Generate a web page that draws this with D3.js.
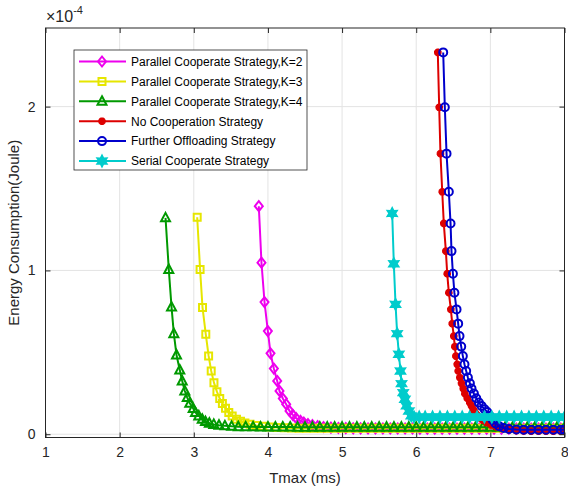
<!DOCTYPE html>
<html>
<head>
<meta charset="utf-8">
<script src="https://cdn.jsdelivr.net/npm/d3@7"></script>
<style>
  body { margin: 0; background: #fff; }
  svg { display: block; font-family: "Liberation Sans", Arial, sans-serif; }
  .tick text { fill: #262626; }
</style>
</head>
<body>
<div id="chart"></div>
<script>
// energy values are in units of 1e-4 Joule (see the x10^-4 label)
var seriesNames = ["Parallel Cooperate Strategy,K=2", "Parallel Cooperate Strategy,K=3",
  "Parallel Cooperate Strategy,K=4", "No Cooperation Strategy",
  "Further Offloading Strategy", "Serial Cooperate Strategy"];
var xTicks = [1, 2, 3, 4, 5, 6, 7, 8];
var yTicks = [0, 1, 2];

var tK2 = [3.877, 3.913, 3.954, 3.999, 4.035, 4.080, 4.125, 4.156, 4.201, 4.246, 4.291, 4.336, 4.381, 4.439, 4.484,
  4.54, 4.60, 4.67, 4.75, 4.85, 4.95, 5.05, 5.15, 5.25, 5.35, 5.45, 5.55, 5.65, 5.75, 5.85, 5.95, 6.05, 6.15,
  6.25, 6.35, 6.45, 6.55, 6.65, 6.75, 6.85, 6.95, 7.05, 7.15, 7.25, 7.35, 7.45, 7.55, 7.65, 7.75, 7.85, 7.95];
var eK2 = [1.392, 1.047, 0.807, 0.630, 0.494, 0.401, 0.325, 0.264, 0.218, 0.183, 0.142, 0.118, 0.098, 0.081, 0.071,
  0.062, 0.055, 0.049, 0.044, 0.040, 0.038, 0.037, 0.036, 0.036, 0.035, 0.035, 0.035, 0.035, 0.035, 0.035, 0.035, 0.034, 0.034,
  0.034, 0.034, 0.034, 0.034, 0.034, 0.034, 0.034, 0.034, 0.034, 0.034, 0.034, 0.034, 0.034, 0.034, 0.034, 0.034, 0.034, 0.034];

var tK3 = [3.046, 3.085, 3.118, 3.162, 3.200, 3.235, 3.272, 3.312, 3.350, 3.386, 3.428, 3.472, 3.518, 3.576,
  3.63, 3.69, 3.76, 3.84, 3.93, 4.02, 4.12, 4.22, 4.32, 4.42, 4.52, 4.62, 4.72, 4.82, 4.92, 5.02, 5.12, 5.22,
  5.32, 5.42, 5.52, 5.62, 5.72, 5.82, 5.92, 6.02, 6.12, 6.22, 6.32, 6.42, 6.52, 6.62, 6.72, 6.82, 6.92, 7.02,
  7.12, 7.22, 7.32, 7.42, 7.52, 7.62, 7.72, 7.82, 7.92, 8.0];
var eK3 = [1.325, 1.006, 0.773, 0.610, 0.478, 0.386, 0.315, 0.260, 0.218, 0.187, 0.159, 0.132, 0.112, 0.091,
  0.079, 0.069, 0.061, 0.054, 0.048, 0.044, 0.041, 0.039, 0.038, 0.037, 0.037, 0.037, 0.036, 0.036, 0.036, 0.036, 0.036, 0.036,
  0.036, 0.036, 0.036, 0.036, 0.036, 0.036, 0.036, 0.036, 0.036, 0.036, 0.036, 0.036, 0.036, 0.036, 0.036, 0.036, 0.036, 0.036,
  0.036, 0.036, 0.036, 0.036, 0.036, 0.036, 0.036, 0.036, 0.036, 0.036];

var tK4 = [2.619, 2.663, 2.700, 2.731, 2.767, 2.811, 2.844, 2.879, 2.912, 2.946, 2.992, 3.023, 3.068, 3.114, 3.158,
  3.21, 3.27, 3.34, 3.42, 3.51, 3.6, 3.7, 3.8, 3.9, 4.0, 4.1, 4.2, 4.3, 4.4, 4.5, 4.6, 4.7, 4.8, 4.9, 5.0,
  5.1, 5.2, 5.3, 5.4, 5.5, 5.6, 5.7, 5.8, 5.9, 6.0, 6.1, 6.2, 6.3, 6.4, 6.5, 6.6, 6.7, 6.8, 6.9, 7.0,
  7.1, 7.2, 7.3, 7.4, 7.5, 7.6, 7.7, 7.8, 7.9, 8.0];
var eK4 = [1.321, 1.006, 0.776, 0.614, 0.484, 0.392, 0.325, 0.264, 0.224, 0.189, 0.157, 0.132, 0.112, 0.091, 0.077,
  0.067, 0.060, 0.055, 0.051, 0.048, 0.046, 0.045, 0.045, 0.044, 0.044, 0.044, 0.044, 0.044, 0.043, 0.043, 0.043, 0.043, 0.043, 0.043, 0.043,
  0.043, 0.043, 0.043, 0.043, 0.043, 0.043, 0.043, 0.043, 0.043, 0.043, 0.043, 0.043, 0.043, 0.043, 0.043, 0.043, 0.043, 0.043, 0.043, 0.043,
  0.043, 0.043, 0.043, 0.043, 0.043, 0.043, 0.043, 0.043, 0.043, 0.043];

var tNoCoop = [6.291, 6.310, 6.327, 6.351, 6.372, 6.400, 6.418, 6.440, 6.467, 6.486, 6.507, 6.521, 6.535, 6.553,
  6.566, 6.588, 6.611, 6.634, 6.656, 6.688, 6.723, 6.746, 6.769, 6.791,
  6.82, 6.86, 6.90, 6.95, 7.01, 7.08, 7.16, 7.25, 7.35, 7.45, 7.55, 7.65, 7.75, 7.85, 7.95, 8.0];
var eNoCoop = [2.331, 1.996, 1.713, 1.480, 1.287, 1.118, 0.980, 0.864, 0.762, 0.675, 0.599, 0.535, 0.477, 0.427,
  0.386, 0.346, 0.311, 0.279, 0.248, 0.220, 0.193, 0.173, 0.152, 0.136,
  0.118, 0.100, 0.085, 0.070, 0.057, 0.045, 0.035, 0.027, 0.022, 0.020, 0.019, 0.019, 0.019, 0.019, 0.019, 0.019];

var tFurther = [6.364, 6.386, 6.409, 6.440, 6.463, 6.476, 6.495, 6.515, 6.544, 6.566, 6.584, 6.607, 6.629, 6.651,
  6.674, 6.697, 6.724, 6.746, 6.778, 6.810, 6.845, 6.881, 6.922, 6.958,
  6.99, 7.03, 7.07, 7.12, 7.18, 7.25, 7.35, 7.45, 7.55, 7.65, 7.75, 7.85, 7.95, 8.0];
var eFurther = [2.331, 1.996, 1.713, 1.480, 1.287, 1.118, 0.980, 0.864, 0.762, 0.675, 0.599, 0.535, 0.477, 0.427,
  0.386, 0.346, 0.311, 0.279, 0.248, 0.220, 0.193, 0.173, 0.152, 0.136,
  0.112, 0.087, 0.066, 0.049, 0.038, 0.032, 0.029, 0.028, 0.027, 0.027, 0.027, 0.027, 0.027, 0.027];

var tSerial = [5.676, 5.698, 5.721, 5.743, 5.766, 5.788, 5.802, 5.825, 5.847, 5.870, 5.901, 5.933,
  5.97, 6.04, 6.12, 6.22, 6.32, 6.42, 6.52, 6.62, 6.72, 6.82, 6.92, 7.02, 7.12, 7.22, 7.32, 7.42, 7.52,
  7.62, 7.72, 7.82, 7.92, 8.0];
var eSerial = [1.348, 1.041, 0.793, 0.614, 0.488, 0.386, 0.309, 0.254, 0.213, 0.173, 0.142, 0.112,
  0.106, 0.105, 0.105, 0.105, 0.105, 0.105, 0.105, 0.105, 0.105, 0.105, 0.105, 0.105, 0.105, 0.105, 0.105, 0.105, 0.105,
  0.105, 0.105, 0.105, 0.105, 0.105];

var colors = ["#ee00ee", "#e6e600", "#009900", "#dd0000", "#0000cc", "#00cccc"];
var markers = ["diamond", "square", "triangle", "asterisk", "circle", "hexagram"];

var w = 568, h = 492;
var m = {top: 28, right: 3.5, bottom: 54.5, left: 45.5};
var iw = w - m.left - m.right, ih = h - m.top - m.bottom;

var x = d3.scaleLinear().domain([1, 8]).range([0, iw]);
var y = d3.scaleLinear().domain([-0.02, 2.48]).range([ih, 0]);

var series = [[tK2, eK2], [tK3, eK3], [tK4, eK4], [tNoCoop, eNoCoop], [tFurther, eFurther], [tSerial, eSerial]].map(function(s, i) {
  return {name: seriesNames[i], color: colors[i], marker: markers[i],
    pts: s[0].map(function(t, j) { return [t, s[1][j]]; })};
});

function markerPath(type) {
  var p = d3.path(), k, a, r;
  if (type === "diamond") { p.moveTo(0, -5); p.lineTo(4, 0); p.lineTo(0, 5); p.lineTo(-4, 0); p.closePath(); }
  else if (type === "square") { p.rect(-3.5, -3.5, 7, 7); }
  else if (type === "triangle") { p.moveTo(0, -5); p.lineTo(4.5, 3.5); p.lineTo(-4.5, 3.5); p.closePath(); }
  else if (type === "circle") { p.arc(0, 0, 4, 0, 2 * Math.PI); p.closePath(); }
  else if (type === "asterisk") {
    for (k = 0; k < 4; k++) {
      a = k * Math.PI / 4;
      p.moveTo(-3.8 * Math.cos(a), -3.8 * Math.sin(a)); p.lineTo(3.8 * Math.cos(a), 3.8 * Math.sin(a));
    }
  } else if (type === "hexagram") {
    for (k = 0; k < 12; k++) {
      a = -Math.PI / 2 + k * Math.PI / 6;
      r = k % 2 ? 2.8 : 5.2;
      if (k === 0) p.moveTo(r * Math.cos(a), r * Math.sin(a)); else p.lineTo(r * Math.cos(a), r * Math.sin(a));
    }
    p.closePath();
  }
  return p.toString();
}
function markerFill(d) { return d.marker === "hexagram" ? d.color : "none"; }
function markerWidth(d) { return d.marker === "asterisk" ? 2.6 : 2; }

var svg = d3.select("#chart").append("svg").attr("width", w).attr("height", h);
var g = svg.append("g").attr("transform", "translate(" + m.left + "," + m.top + ")");

svg.append("defs").append("clipPath").attr("id", "clip")
  .append("rect").attr("x", 0).attr("y", 0).attr("width", iw).attr("height", ih);

// grid
g.append("g").selectAll("line").data(xTicks).enter().append("line")
  .attr("x1", function(d) { return x(d); }).attr("x2", function(d) { return x(d); })
  .attr("y1", 0).attr("y2", ih).attr("stroke", "#e3e3e3").attr("stroke-width", 1);
g.append("g").selectAll("line").data(yTicks).enter().append("line")
  .attr("y1", function(d) { return y(d); }).attr("y2", function(d) { return y(d); })
  .attr("x1", 0).attr("x2", iw).attr("stroke", "#e3e3e3").attr("stroke-width", 1);

// curves
var line = d3.line().x(function(d) { return x(d[0]); }).y(function(d) { return y(d[1]); });
var plot = g.append("g").attr("clip-path", "url(#clip)");
series.forEach(function(s) {
  var sg = plot.append("g");
  sg.append("path").datum(s.pts).attr("d", line).attr("fill", "none")
    .attr("stroke", s.color).attr("stroke-width", 2).attr("stroke-linejoin", "round");
  sg.selectAll("path.mk").data(s.pts).enter().append("path").attr("class", "mk")
    .attr("transform", function(d) { return "translate(" + x(d[0]) + "," + y(d[1]) + ")"; })
    .attr("d", markerPath(s.marker)).attr("fill", markerFill(s))
    .attr("stroke", s.color).attr("stroke-width", markerWidth(s));
});

// axes (ticks pointing inward, box on)
var fmt = d3.format("d");
var ax = d3.axisBottom(x).tickValues(xTicks).tickFormat(fmt).tickSize(-5).tickPadding(10);
var ay = d3.axisLeft(y).tickValues(yTicks).tickFormat(fmt).tickSize(-5).tickPadding(10);
var gx = g.append("g").attr("transform", "translate(0," + ih + ")").call(ax);
var gy = g.append("g").call(ay);
g.append("g").call(d3.axisTop(x).tickValues(xTicks).tickSize(-5).tickFormat(""));
g.append("g").attr("transform", "translate(" + iw + ",0)").call(d3.axisRight(y).tickValues(yTicks).tickSize(-5).tickFormat(""));
g.selectAll(".domain").remove();
g.selectAll(".tick line").attr("stroke", "#262626");
g.append("rect").attr("width", iw).attr("height", ih).attr("fill", "none").attr("stroke", "#262626").attr("stroke-width", 1);
gx.selectAll("text").attr("font-size", 14);
gy.selectAll("text").attr("font-size", 14);

// exponent label
var ex = svg.append("text").attr("x", 46).attr("y", 22).attr("fill", "#262626").attr("font-size", 16);
ex.append("tspan").text("\u00d710");
ex.append("tspan").attr("dy", -8).attr("font-size", 11).text("-4");

svg.append("text").attr("x", m.left + iw / 2).attr("y", 483).attr("text-anchor", "middle")
  .attr("fill", "#262626").attr("font-size", 15).text("Tmax (ms)");
svg.append("text").attr("transform", "translate(19," + (m.top + ih / 2) + ") rotate(-90)")
  .attr("text-anchor", "middle").attr("fill", "#262626").attr("font-size", 15).text("Energy Consumption(Joule)");

// legend
var lg = svg.append("g").attr("transform", "translate(74,50)");
lg.append("rect").attr("width", 233).attr("height", 120).attr("fill", "#fff").attr("stroke", "#262626").attr("stroke-width", 0.8);
var item = lg.selectAll("g.item").data(series).enter().append("g").attr("class", "item")
  .attr("transform", function(d, i) { return "translate(0," + (11.5 + i * 19.9) + ")"; });
item.append("line").attr("x1", 5).attr("x2", 52).attr("stroke", function(d) { return d.color; }).attr("stroke-width", 2);
item.append("path").attr("transform", "translate(28,0)").attr("d", function(d) { return markerPath(d.marker); })
  .attr("fill", markerFill).attr("stroke", function(d) { return d.color; })
  .attr("stroke-width", markerWidth);
item.append("text").attr("x", 57).attr("dy", "0.36em").attr("font-size", 12).attr("fill", "#000")
  .text(function(d) { return d.name; });
</script>
</body>
</html>
